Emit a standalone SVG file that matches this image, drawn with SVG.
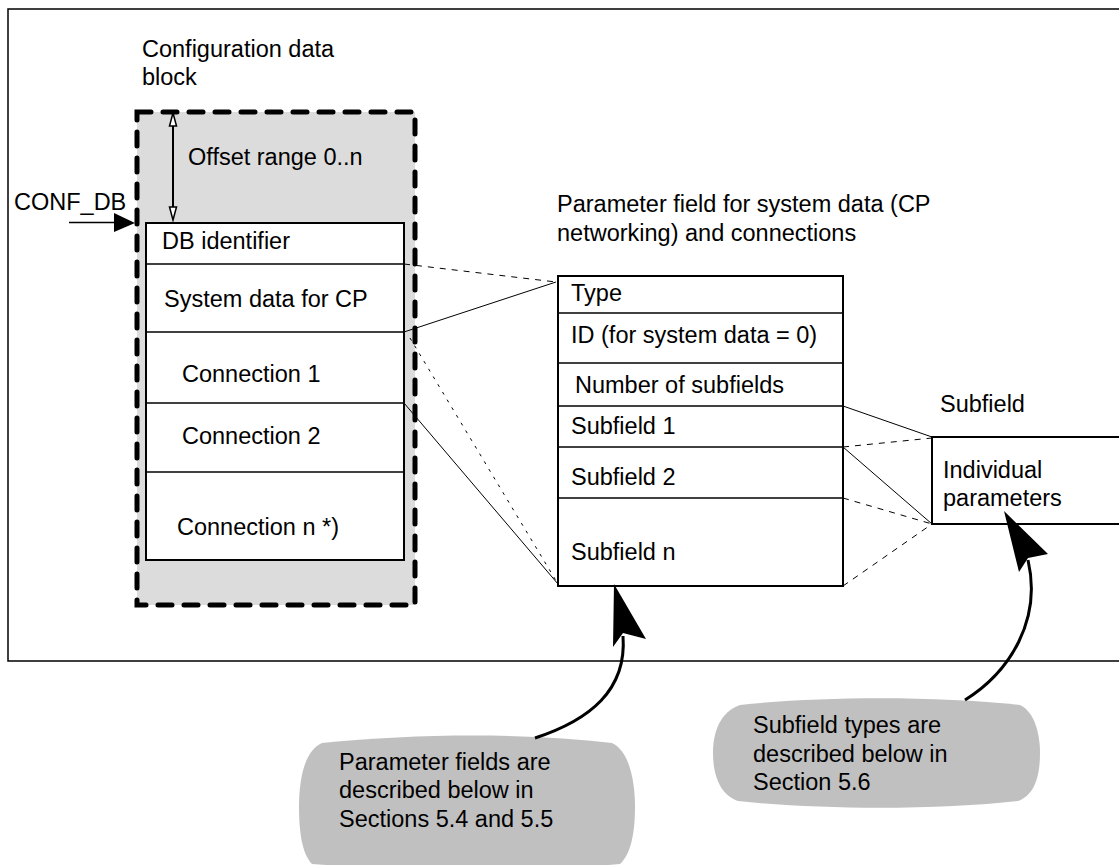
<svg xmlns="http://www.w3.org/2000/svg" width="1119" height="865" viewBox="0 0 1119 865">
<style>
text{font-family:"Liberation Sans",Arial,sans-serif;font-size:23.5px;fill:#000}
.box{fill:#fff;stroke:#000;stroke-width:2}
.row{stroke:#000;stroke-width:1.5;fill:none}
.thin{stroke:#000;stroke-width:1;fill:none}
.dash{stroke:#000;stroke-width:1;fill:none;stroke-dasharray:6 6}
.dot{stroke:#000;stroke-width:1;fill:none;stroke-dasharray:3 6}
.callout{fill:#c0c0c0;stroke:none}
.curve{fill:none;stroke:#000;stroke-width:3}
</style>
<rect width="1119" height="865" fill="#fff"/>
<path d="M1119 9 H8 V661 H1119" fill="none" stroke="#000" stroke-width="1.5"/>

<g id="config-db">
<text x="142" y="57">Configuration data</text>
<text x="142" y="85">block</text>
<rect x="137" y="112" width="278" height="493" fill="#dcdcdc" stroke="#000" stroke-width="5" stroke-dasharray="14 12" stroke-linecap="round"/>
<line x1="173" y1="118" x2="173" y2="215" stroke="#000" stroke-width="2"/>
<polygon points="173,113 169.5,126 176.5,126" fill="#fff" stroke="#000" stroke-width="1.5"/>
<polygon points="173,220 169.5,207 176.5,207" fill="#fff" stroke="#000" stroke-width="1.5"/>
<text x="188" y="165">Offset range 0..n</text>
<rect class="box" x="146" y="223" width="258" height="337"/>
<line class="row" x1="146" y1="264" x2="404" y2="264" stroke-width="2"/>
<line class="row" x1="146" y1="332" x2="404" y2="332" stroke-width="2"/>
<line class="row" x1="146" y1="403" x2="404" y2="403" stroke-width="2"/>
<line class="row" x1="146" y1="472" x2="404" y2="472" stroke-width="2"/>
<text x="162" y="249">DB identifier</text>
<text x="164" y="307">System data for CP</text>
<text x="182" y="382">Connection 1</text>
<text x="182" y="444">Connection 2</text>
<text x="177" y="535">Connection n *)</text>
</g>

<g id="conf-db-pointer">
<text x="14" y="210">CONF_DB</text>
<line x1="69" y1="222.5" x2="116" y2="222.5" stroke="#000" stroke-width="1.5"/>
<polygon points="114,213 135,223 114,232" fill="#000"/>
</g>

<g id="param-field">
<text x="557" y="212">Parameter field for system data (CP</text>
<text x="557" y="241">networking) and connections</text>
<rect class="box" x="558" y="276" width="285" height="310" stroke-width="2.5"/>
<line class="row" x1="558" y1="313" x2="843" y2="313"/>
<line class="row" x1="558" y1="363" x2="843" y2="363"/>
<line class="row" x1="558" y1="406" x2="843" y2="406"/>
<line class="row" x1="558" y1="447" x2="843" y2="447"/>
<line class="row" x1="558" y1="498" x2="843" y2="498"/>
<text x="571" y="301">Type</text>
<text x="571" y="343">ID (for system data = 0)</text>
<text x="575" y="393">Number of subfields</text>
<text x="571" y="434">Subfield 1</text>
<text x="571" y="485">Subfield 2</text>
<text x="571" y="560">Subfield n</text>
</g>

<g id="subfield">
<text x="940" y="412">Subfield</text>
<path d="M1120 437 H932 V524 H1120" fill="#fff" stroke="#000" stroke-width="2"/>
<text x="943" y="478">Individual</text>
<text x="943" y="506">parameters</text>
</g>

<g id="connectors">
<line class="dash" x1="404" y1="264" x2="556" y2="282"/>
<line class="thin" x1="404" y1="332" x2="556" y2="282"/>
<line class="dot" x1="410" y1="338" x2="558" y2="584"/>
<line class="thin" x1="404" y1="403" x2="558" y2="584"/>
<line class="thin" x1="843" y1="406" x2="932" y2="437"/>
<line class="dash" x1="843" y1="447" x2="932" y2="438"/>
<line class="thin" x1="843" y1="447" x2="932" y2="524"/>
<line class="dash" x1="843" y1="498" x2="932" y2="524"/>
<line class="dash" x1="843" y1="586" x2="932" y2="524"/>
</g>

<g id="callout-param">
<path class="callout" d="M322 743 C420 733 530 733 612 743 C628 750 635 778 635 807 C635 835 630 855 620 864 C530 872 420 872 312 864 C303 855 299 835 299 807 C299 778 305 750 322 743 Z"/>
<text x="339" y="770">Parameter fields are</text>
<text x="339" y="798">described below in</text>
<text x="339" y="827">Sections 5.4 and 5.5</text>
<path class="curve" d="M535 738 C590 720 627 690 623 636"/>
<polygon points="614,584 646,639 623,633 613,647" fill="#000"/>
</g>

<g id="callout-subfield">
<path class="callout" d="M740 705 C820 696 940 696 1020 705 C1035 712 1040 735 1040 753 C1040 775 1035 795 1018 801 C940 810 820 810 738 801 C720 795 713 775 713 753 C713 732 720 712 740 705 Z"/>
<text x="753" y="733">Subfield types are</text>
<text x="753" y="762">described below in</text>
<text x="753" y="790">Section 5.6</text>
<path class="curve" d="M965 700 C1010 672 1042 620 1028 560"/>
<polygon points="1004,511 1048,554 1028,558 1019,572" fill="#000"/>
</g>
</svg>
